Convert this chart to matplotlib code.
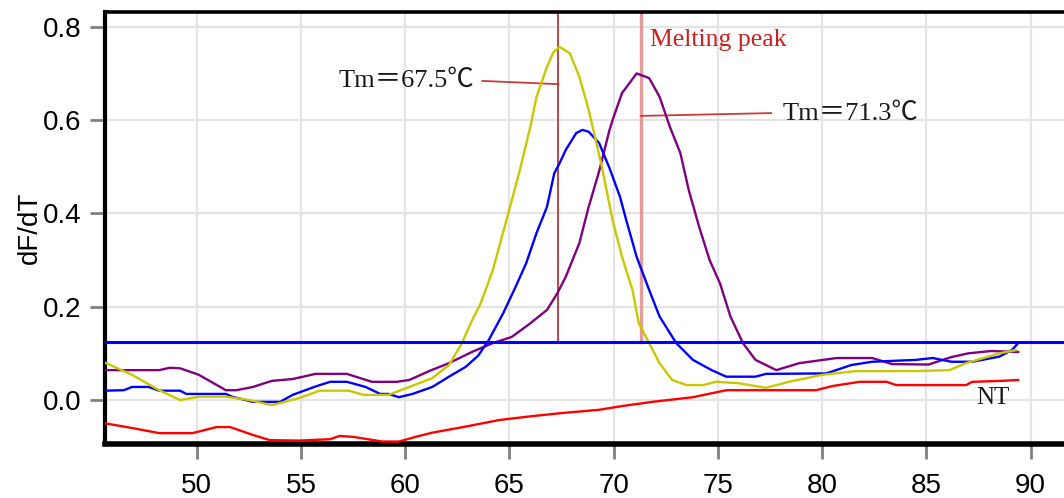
import matplotlib
matplotlib.use("Agg")
import matplotlib.pyplot as plt

# ---------------- data ----------------
yellow_x = [45.6, 46.9, 48.2, 49.2, 50.1, 51.4, 52.5, 53.6, 54.9, 55.9, 57.3, 58.0, 59.2, 60.2,
            61.3, 62.1, 62.7, 63.2, 63.6, 64.2, 64.9, 65.5, 66.0, 66.3, 66.8, 67.1, 67.4, 67.9,
            68.35, 68.8, 69.4, 69.95, 70.4, 70.9, 71.2, 71.7, 72.2, 72.8, 73.5, 74.3, 74.9, 76.0,
            77.3, 78.4, 80.0, 81.6, 84.5, 86.1, 86.9, 88.5, 89.3]
yellow_y = [0.080, 0.054, 0.021, 0.000, 0.007, 0.007, 0.000, -0.011, 0.004, 0.020, 0.020, 0.011,
            0.011, 0.028, 0.047, 0.075, 0.120, 0.170, 0.205, 0.278, 0.393, 0.493, 0.585, 0.650,
            0.714, 0.745, 0.757, 0.743, 0.693, 0.622, 0.507, 0.385, 0.307, 0.236, 0.165, 0.122,
            0.079, 0.043, 0.032, 0.032, 0.039, 0.036, 0.026, 0.039, 0.054, 0.062, 0.062, 0.064,
            0.079, 0.100, 0.107]

blue_x = [45.6, 46.5, 46.9, 47.7, 48.2, 49.2, 49.5, 51.4, 51.7, 52.7, 54.0, 54.6, 55.7, 56.4,
          57.2, 58.1, 58.8, 59.2, 59.7, 60.35, 61.3, 62.1, 62.9, 63.5, 64.0, 64.7, 65.3, 65.8,
          66.3, 66.8, 67.15, 67.4, 67.7, 68.2, 68.5, 68.8, 69.3, 69.8, 70.3, 70.6, 71.1, 71.7,
          72.2, 73.0, 73.8, 74.7, 75.4, 76.8, 77.3, 80.2, 81.4, 82.4, 84.5, 85.3, 86.2, 87.2,
          88.5, 89.1, 89.4]
blue_y = [0.020, 0.021, 0.028, 0.028, 0.020, 0.020, 0.013, 0.013, 0.007, -0.004, -0.004, 0.011,
          0.029, 0.039, 0.039, 0.028, 0.013, 0.013, 0.006, 0.013, 0.028, 0.050, 0.071, 0.095,
          0.128, 0.186, 0.243, 0.293, 0.358, 0.414, 0.486, 0.507, 0.536, 0.572, 0.579, 0.575,
          0.551, 0.497, 0.436, 0.386, 0.307, 0.236, 0.179, 0.122, 0.086, 0.064, 0.050, 0.050,
          0.056, 0.057, 0.075, 0.082, 0.086, 0.090, 0.082, 0.082, 0.093, 0.107, 0.122]

purple_x = [45.6, 48.2, 48.7, 49.2, 50.1, 51.4, 51.9, 52.7, 53.6, 54.6, 55.7, 57.2, 58.4, 59.6,
            60.2, 61.2, 62.1, 63.2, 64.2, 65.1, 65.9, 66.8, 67.3, 67.7, 68.35, 68.8, 69.3, 69.8,
            70.0, 70.4, 71.1, 71.7, 72.2, 72.7, 73.2, 73.6, 74.1, 74.6, 75.1, 75.6, 76.2, 76.8,
            77.8, 78.9, 80.7, 82.4, 83.35, 85.1, 86.2, 87.0, 88.1, 89.4]
purple_y = [0.064, 0.064, 0.069, 0.068, 0.054, 0.021, 0.021, 0.028, 0.041, 0.045, 0.056, 0.056,
            0.039, 0.039, 0.043, 0.063, 0.079, 0.103, 0.122, 0.135, 0.161, 0.193, 0.229, 0.264,
            0.336, 0.414, 0.490, 0.579, 0.607, 0.658, 0.700, 0.690, 0.650, 0.585, 0.529, 0.450,
            0.371, 0.300, 0.250, 0.179, 0.122, 0.086, 0.064, 0.079, 0.090, 0.090, 0.077, 0.076,
            0.092, 0.100, 0.105, 0.103]

red_x = [45.6, 46.9, 48.2, 49.8, 50.95, 51.6, 52.7, 53.5, 54.9, 56.4, 56.85, 57.5, 58.9, 59.7,
         60.5, 61.3, 62.9, 64.5, 66.0, 67.5, 69.3, 70.4, 71.85, 73.8, 75.4, 79.7, 80.5, 81.8,
         83.1, 83.55, 86.9, 87.2, 88.6, 89.4]
red_y = [-0.050, -0.060, -0.071, -0.071, -0.058, -0.058, -0.075, -0.086, -0.087, -0.084, -0.077,
         -0.079, -0.089, -0.089, -0.079, -0.070, -0.057, -0.043, -0.035, -0.028, -0.021, -0.013,
         -0.004, 0.006, 0.021, 0.021, 0.030, 0.039, 0.039, 0.032, 0.032, 0.039, 0.041, 0.043]

threshold = 0.124
tm1 = 67.35
tm2 = 71.3
tm1_label = "Tm\uff1d67.5\u2103"
tm2_label = "Tm\uff1d71.3\u2103"
peak_label = "Melting peak"
nt_label = "NT"
x_ticks = [50, 55, 60, 65, 70, 75, 80, 85, 90]
y_ticks = [0.0, 0.2, 0.4, 0.6, 0.8]
y_label = "dF/dT"

# ---------------- figure ----------------
fig = plt.figure(figsize=(10.64, 4.98), dpi=100)
ax = fig.add_axes([105 / 1064, 54 / 498, (1064 - 105) / 1064, (444 - 12) / 498])
ax.set_xlim(45.6, 91.6)
ax.set_ylim(-0.0943, 0.8317)

ax.grid(True, color="#e4e4e4", linewidth=1.6, zorder=0)
ax.set_axisbelow(True)

lw = 1.7
ax.plot(red_x, red_y, color="#ff0000", lw=lw, zorder=3)
ax.plot(purple_x, purple_y, color="#800080", lw=lw, zorder=3)
ax.plot(blue_x, blue_y, color="#0000ff", lw=lw, zorder=3)
ax.plot(yellow_x, yellow_y, color="#c8c800", lw=lw, zorder=3)

ax.axhline(threshold, color="#0000ff", lw=2.2, zorder=4)

ymax = ax.get_ylim()[1]
ax.plot([tm1, tm1], [threshold, ymax], color="#b23a3a", lw=1.3, zorder=2)
ax.plot([tm2, tm2], [threshold, ymax], color="#e79a9a", lw=2.4, zorder=2)

# annotation leader lines
ax.plot([63.7, tm1], [0.684, 0.677], color="#cc3b3b", lw=1.3, zorder=2)
ax.plot([tm2, 77.55], [0.609, 0.615], color="#cc3b3b", lw=1.3, zorder=2)

serif = ["Liberation Serif", "Noto Sans CJK SC", "DejaVu Sans"]
ax.text(63.3, 0.684, tm1_label, family=serif, fontsize=19, ha="right", va="center", color="#1a1a1a")
ax.text(78.1, 0.613, tm2_label, family=serif, fontsize=19, ha="left", va="center", color="#1a1a1a")
ax.text(71.75, 0.772, peak_label, family=serif, fontsize=18.5, ha="left", va="center", color="#cc2020")
ax.text(87.4, 0.004, nt_label, family=serif, fontsize=18, ha="left", va="center", color="#1a1a1a")

ax.set_xticks(x_ticks)
ax.set_yticks(y_ticks)
ax.set_yticklabels([f"{v:.1f}" for v in y_ticks])
ax.tick_params(axis="both", direction="out", length=11, width=2, color="#808080",
               labelsize=20, pad=6)
ax.tick_params(axis="x", pad=10)
for lab in ax.get_xticklabels() + ax.get_yticklabels():
    lab.set_family("Liberation Sans")

ax.set_ylabel(y_label, fontsize=20, family="Liberation Sans", labelpad=0)

ax.spines["right"].set_visible(False)
ax.spines["left"].set_linewidth(3)
ax.spines["top"].set_linewidth(2.6)
ax.spines["bottom"].set_linewidth(4)
for s in ("left", "top", "bottom"):
    ax.spines[s].set_color("black")

fig.savefig("out.png", dpi=100)
